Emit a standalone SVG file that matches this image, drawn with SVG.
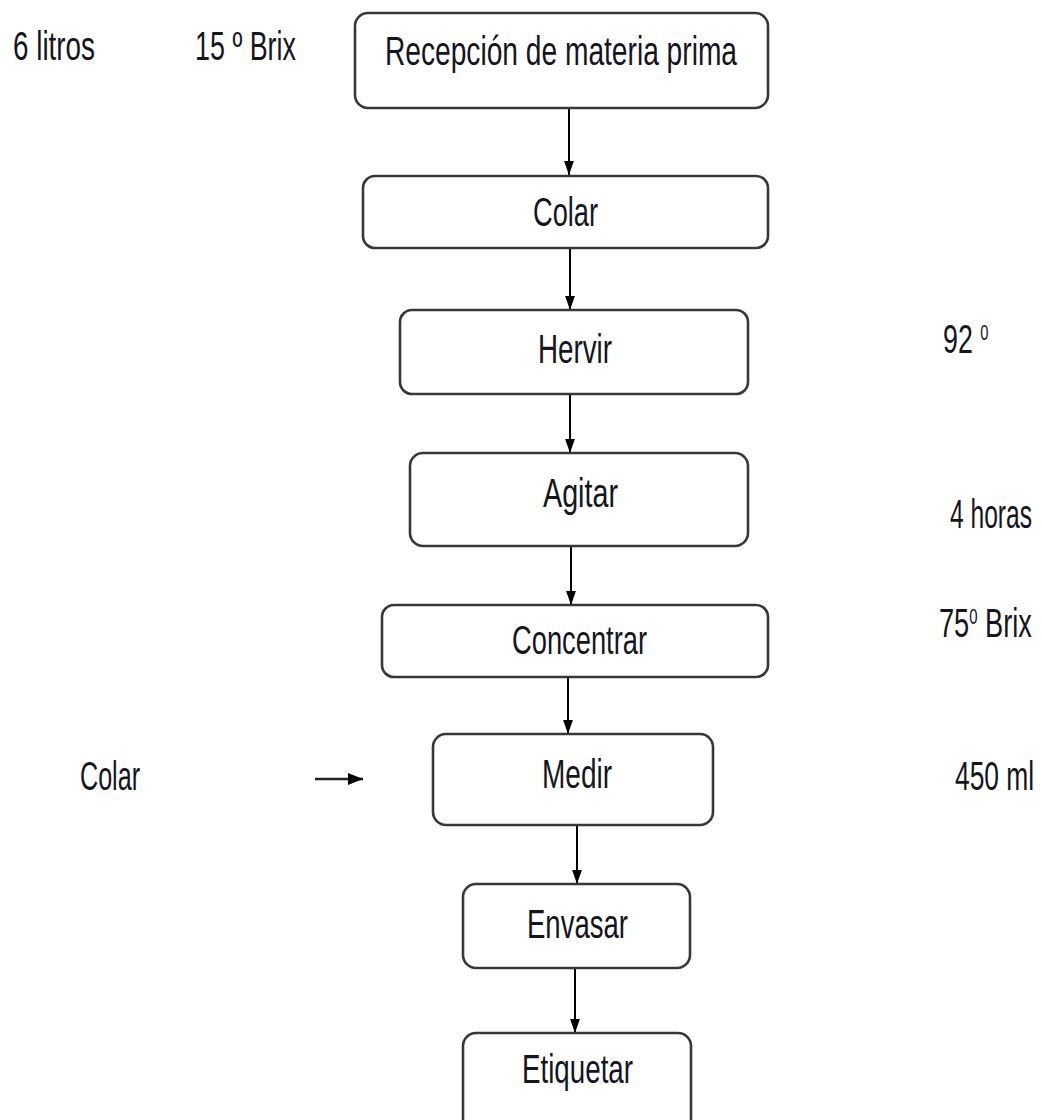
<svg xmlns="http://www.w3.org/2000/svg" width="1042" height="1120" viewBox="0 0 1042 1120">
  <defs>
    <marker id="head" markerUnits="userSpaceOnUse" markerWidth="14" markerHeight="20" refX="20" refY="7" orient="auto" viewBox="0 0 20 14">
      <path d="M0,0 L20,7 L0,14 Z" fill="#000"/>
    </marker>
    <marker id="headSide" markerUnits="userSpaceOnUse" markerWidth="15" markerHeight="12" refX="15" refY="6" orient="auto" viewBox="0 0 15 12">
      <path d="M0,0 L15,6 L0,12 Z" fill="#000"/>
    </marker>
  </defs>
  <style>
    .box { fill: #ffffff; stroke: #383838; stroke-width: 2.6; }
    .lbl { font-family: "Liberation Sans", Arial, sans-serif; font-size: 40px; fill: #15151f; }
    .edge { stroke: #000; stroke-width: 2; fill: none; marker-end: url(#head); }
    .side { stroke: #222; stroke-width: 2.5; fill: none; marker-end: url(#headSide); }
  </style>

  <rect width="1042" height="1120" fill="#ffffff"/>

  <!-- connectors between process steps -->
  <g id="connectors">
    <line class="edge" x1="569" y1="108" x2="569" y2="175"/>
    <line class="edge" x1="570" y1="248" x2="570" y2="310"/>
    <line class="edge" x1="570" y1="394" x2="570" y2="453"/>
    <line class="edge" x1="571" y1="546" x2="571" y2="605"/>
    <line class="edge" x1="568" y1="677" x2="568" y2="734"/>
    <line class="edge" x1="577" y1="825" x2="577" y2="884"/>
    <line class="edge" x1="575" y1="968" x2="575" y2="1033"/>
    <line class="side" x1="315" y1="779" x2="363" y2="779"/>
  </g>

  <g id="recepcion">
    <rect class="box" x="355" y="13" width="413" height="95" rx="13"/>
    <text class="lbl" x="385" y="65" font-size="43" textLength="352" lengthAdjust="spacingAndGlyphs">Recepción de materia prima</text>
  </g>

  <g id="colar">
    <rect class="box" x="363" y="176" width="405" height="72" rx="12"/>
    <text class="lbl" x="533" y="226" font-size="38" textLength="65" lengthAdjust="spacingAndGlyphs">Colar</text>
  </g>

  <g id="hervir">
    <rect class="box" x="400" y="310" width="348" height="84" rx="12"/>
    <text class="lbl" x="538" y="363" font-size="41" textLength="74" lengthAdjust="spacingAndGlyphs">Hervir</text>
  </g>

  <g id="agitar">
    <rect class="box" x="410" y="453" width="338" height="93" rx="13"/>
    <text class="lbl" x="543" y="507" font-size="39" textLength="75" lengthAdjust="spacingAndGlyphs">Agitar</text>
  </g>

  <g id="concentrar">
    <rect class="box" x="382" y="605" width="386" height="72" rx="12"/>
    <text class="lbl" x="512" y="654" font-size="38" textLength="135" lengthAdjust="spacingAndGlyphs">Concentrar</text>
  </g>

  <g id="medir">
    <rect class="box" x="433" y="734" width="280" height="91" rx="13"/>
    <text class="lbl" x="542" y="788" font-size="40" textLength="70" lengthAdjust="spacingAndGlyphs">Medir</text>
  </g>

  <g id="envasar">
    <rect class="box" x="463" y="884" width="227" height="84" rx="13"/>
    <text class="lbl" x="527" y="938" font-size="41" textLength="101" lengthAdjust="spacingAndGlyphs">Envasar</text>
  </g>

  <g id="etiquetar">
    <rect class="box" x="463" y="1033" width="228" height="110" rx="13"/>
    <text class="lbl" x="522" y="1083" font-size="39" textLength="111" lengthAdjust="spacingAndGlyphs">Etiquetar</text>
  </g>

  <!-- process parameters -->
  <g id="notes">
    <text class="lbl" x="13" y="60" font-size="39" textLength="82" lengthAdjust="spacingAndGlyphs">6 litros</text>
    <text class="lbl" x="195" y="60" font-size="39" textLength="101" lengthAdjust="spacingAndGlyphs">15 º Brix</text>
    <text class="lbl" transform="translate(943,353) scale(0.67,1)">92 <tspan font-size="22" dy="-13">0</tspan></text>
    <text class="lbl" font-size="39" transform="translate(950,528) scale(0.615,1)">4 horas</text>
    <text class="lbl" transform="translate(939,637) scale(0.68,1)">75<tspan font-size="22" dy="-13">0</tspan><tspan dy="13"> Brix</tspan></text>
    <text class="lbl" font-size="39" transform="translate(955,790) scale(0.66,1)">450 ml</text>
    <text class="lbl" x="80" y="790" font-size="39" textLength="60" lengthAdjust="spacingAndGlyphs">Colar</text>
  </g>
</svg>
